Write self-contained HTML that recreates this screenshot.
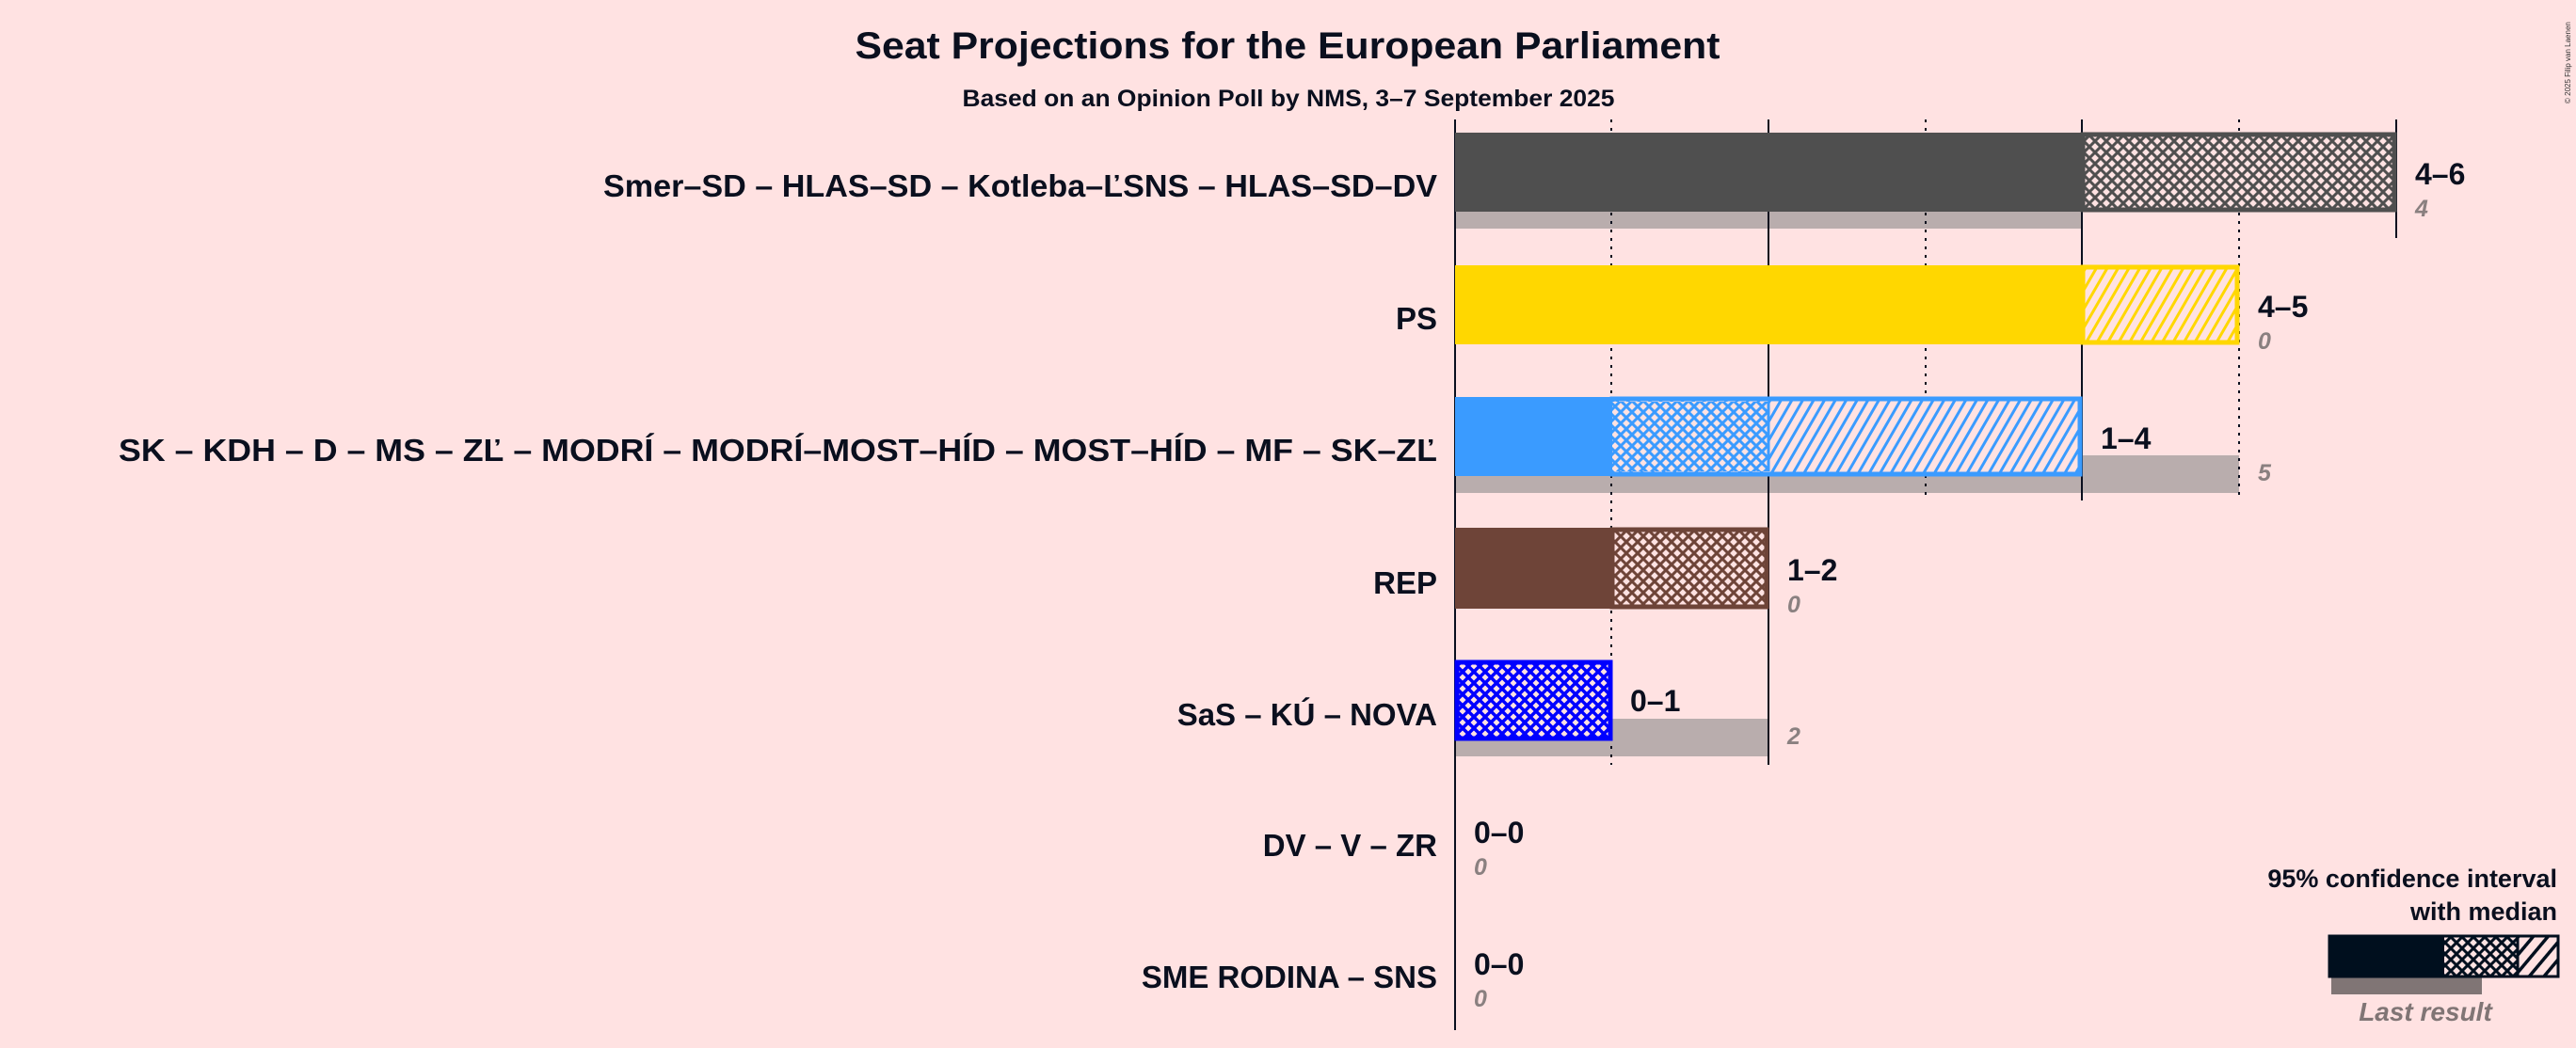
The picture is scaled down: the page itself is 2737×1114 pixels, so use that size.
<!DOCTYPE html>
<html><head><meta charset="utf-8"><style>
html,body{margin:0;padding:0;background:#FFE2E2;}
svg{display:block;font-family:"Liberation Sans",sans-serif;}
</style></head><body>
<svg width="2737" height="1114" viewBox="0 0 2737 1114" xmlns="http://www.w3.org/2000/svg">
<defs>
<pattern id="cx0" width="12" height="12" patternUnits="userSpaceOnUse"><rect width="12" height="12" fill="#FFE2E2"/><path d="M0,0L12,12M12,0L0,12M-6,6L6,18M6,-6L18,6M-6,6L6,-6M6,18L18,6" stroke="#4f4f4f" stroke-width="3"/></pattern>
<pattern id="cx2" width="12" height="12" patternUnits="userSpaceOnUse"><rect width="12" height="12" fill="#FFE2E2"/><path d="M0,0L12,12M12,0L0,12M-6,6L6,18M6,-6L18,6M-6,6L6,-6M6,18L18,6" stroke="#3A9BFF" stroke-width="3"/></pattern>
<pattern id="cx3" width="12" height="12" patternUnits="userSpaceOnUse"><rect width="12" height="12" fill="#FFE2E2"/><path d="M0,0L12,12M12,0L0,12M-6,6L6,18M6,-6L18,6M-6,6L6,-6M6,18L18,6" stroke="#6E4438" stroke-width="3"/></pattern>
<pattern id="cx4" width="12" height="12" patternUnits="userSpaceOnUse"><rect width="12" height="12" fill="#FFE2E2"/><path d="M0,0L12,12M12,0L0,12M-6,6L6,18M6,-6L18,6M-6,6L6,-6M6,18L18,6" stroke="#0000FF" stroke-width="3.5"/></pattern>
<pattern id="cxL" width="12" height="12" patternUnits="userSpaceOnUse"><rect width="12" height="12" fill="#FFE2E2"/><path d="M0,0L12,12M12,0L0,12M-6,6L6,18M6,-6L18,6M-6,6L6,-6M6,18L18,6" stroke="#000F1E" stroke-width="3"/></pattern>
<pattern id="dg1" width="10" height="10" patternUnits="userSpaceOnUse" patternTransform="rotate(30)"><rect width="10" height="10" fill="#FFE2E2"/><rect width="3" height="10" fill="#FFD700"/></pattern>
<pattern id="dg2" width="10" height="10" patternUnits="userSpaceOnUse" patternTransform="rotate(30)"><rect width="10" height="10" fill="#FFE2E2"/><rect width="3" height="10" fill="#3A9BFF"/></pattern>
<pattern id="dgL" width="12" height="12" patternUnits="userSpaceOnUse" patternTransform="rotate(40)"><rect width="12" height="12" fill="#FFE2E2"/><rect width="3.5" height="12" fill="#000F1E"/></pattern>
</defs>
<rect width="2737" height="1114" fill="#FFE2E2"/>
<text x="1368" y="62" text-anchor="middle" font-size="40" font-weight="bold" fill="#0a0f1e" textLength="919" lengthAdjust="spacingAndGlyphs">Seat Projections for the European Parliament</text>
<text x="1369" y="113" text-anchor="middle" font-size="25" font-weight="bold" fill="#0a0f1e" textLength="693" lengthAdjust="spacingAndGlyphs">Based on an Opinion Poll by NMS, 3–7 September 2025</text>
<text transform="translate(2731,110) rotate(-90)" font-size="8" fill="#333">© 2025 Filip van Laenen</text>

<!-- last results -->
<g fill="#B9ADAD">
<rect x="1546" y="203" width="667" height="40"/>
<rect x="1546" y="484" width="833" height="40"/>
<rect x="1546" y="764" width="333" height="40"/>
</g>

<!-- grid -->
<g stroke="#0a0f1e" stroke-width="2">
<line x1="1546" y1="127" x2="1546" y2="1095"/>
<line x1="1879" y1="127" x2="1879" y2="813"/>
<line x1="2212" y1="127" x2="2212" y2="532"/>
<line x1="2546" y1="127" x2="2546" y2="253"/>
</g>
<g stroke="#0a0f1e" stroke-width="2" stroke-dasharray="3,6">
<line x1="1712" y1="127" x2="1712" y2="813"/>
<line x1="2046" y1="127" x2="2046" y2="532"/>
<line x1="2379" y1="127" x2="2379" y2="532"/>
</g>

<!-- row 0 -->
<rect x="1546" y="141" width="667" height="84" fill="#4f4f4f"/>
<rect x="2213" y="143" width="331" height="80" fill="url(#cx0)" stroke="#4f4f4f" stroke-width="5"/>
<!-- row 1 -->
<rect x="1546" y="282" width="667" height="84" fill="#FFD700"/>
<rect x="2213" y="284" width="164" height="80" fill="url(#dg1)" stroke="#FFD700" stroke-width="5"/>
<!-- row 2 -->
<rect x="1546" y="422" width="167" height="84" fill="#3A9BFF"/>
<rect x="1713" y="424" width="497" height="80" fill="url(#dg2)" stroke="#3A9BFF" stroke-width="5"/>
<rect x="1713" y="427" width="166" height="74" fill="url(#cx2)"/>
<line x1="1879" y1="427" x2="1879" y2="501" stroke="#3A9BFF" stroke-width="3"/>
<!-- row 3 -->
<rect x="1546" y="561" width="167" height="86" fill="#6E4438"/>
<rect x="1713" y="563" width="164" height="82" fill="url(#cx3)" stroke="#6E4438" stroke-width="5"/>
<!-- row 4 -->
<rect x="1548" y="704" width="163" height="81" fill="url(#cx4)" stroke="#0000FF" stroke-width="5"/>

<!-- party labels -->
<g font-size="33" font-weight="bold" fill="#0a0f1e" text-anchor="end">
<text x="1527" y="209" textLength="886" lengthAdjust="spacingAndGlyphs">Smer–SD – HLAS–SD – Kotleba–ĽSNS – HLAS–SD–DV</text>
<text x="1527" y="350">PS</text>
<text x="1527" y="490" textLength="1401" lengthAdjust="spacingAndGlyphs">SK – KDH – D – MS – ZĽ – MODRÍ – MODRÍ–MOST–HÍD – MOST–HÍD – MF – SK–ZĽ</text>
<text x="1527" y="631">REP</text>
<text x="1527" y="771">SaS – KÚ – NOVA</text>
<text x="1527" y="910">DV – V – ZR</text>
<text x="1527" y="1050">SME RODINA – SNS</text>
</g>
<!-- ranges -->
<g font-size="32" font-weight="bold" fill="#0a0f1e">
<text x="2566" y="196">4–6</text>
<text x="2399" y="337">4–5</text>
<text x="2232" y="477">1–4</text>
<text x="1899" y="617">1–2</text>
<text x="1732" y="756">0–1</text>
<text x="1566" y="896">0–0</text>
<text x="1566" y="1036">0–0</text>
</g>
<g font-size="25" font-style="italic" font-weight="bold" fill="#8a8080">
<text x="2566" y="230">4</text>
<text x="2399" y="371">0</text>
<text x="2399" y="511">5</text>
<text x="1899" y="651">0</text>
<text x="1899" y="791">2</text>
<text x="1566" y="930">0</text>
<text x="1566" y="1070">0</text>
</g>

<!-- legend -->
<g font-size="27" font-weight="bold" fill="#0a0f1e" text-anchor="end">
<text x="2717" y="943">95% confidence interval</text>
<text x="2717" y="978">with median</text>
</g>
<rect x="2477" y="1039" width="160" height="18" fill="#807575"/>
<rect x="2474" y="994" width="123" height="45" fill="#000F1E"/>
<rect x="2597" y="995" width="78" height="43" fill="url(#cxL)"/>
<rect x="2675" y="995" width="43" height="43" fill="url(#dgL)"/>
<rect x="2475" y="995" width="243" height="43" fill="none" stroke="#000F1E" stroke-width="3"/>
<line x1="2675" y1="995" x2="2675" y2="1038" stroke="#000F1E" stroke-width="3"/>
<text x="2577" y="1085" text-anchor="middle" font-size="28" font-style="italic" font-weight="bold" fill="#807575">Last result</text>
</svg>
</body></html>
